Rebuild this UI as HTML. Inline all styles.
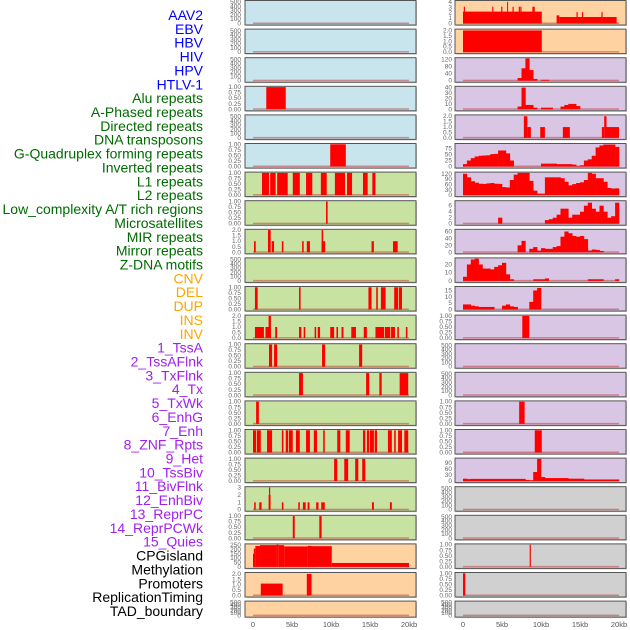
<!DOCTYPE html>
<html><head><meta charset="utf-8"><style>
html,body{margin:0;padding:0;background:#fff;width:630px;height:630px;overflow:hidden}
svg{display:block;font-family:"Liberation Sans",sans-serif}
</style></head><body>
<svg id="chart" width="630" height="630"></svg>
<script>
// ---------- data ----------
const trackLabels=["AAV2","EBV","HBV","HIV","HPV","HTLV-1","Alu repeats","A-Phased repeats","Directed repeats","DNA transposons","G-Quadruplex forming repeats","Inverted repeats","L1 repeats","L2 repeats","Low_complexity A/T rich regions","Microsatellites","MIR repeats","Mirror repeats","Z-DNA motifs","CNV","DEL","DUP","INS","INV","1_TssA","2_TssAFlnk","3_TxFlnk","4_Tx","5_TxWk","6_EnhG","7_Enh","8_ZNF_Rpts","9_Het","10_TssBiv","11_BivFlnk","12_EnhBiv","13_ReprPC","14_ReprPCWk","15_Quies","CPGisland","Methylation","Promoters","ReplicationTiming","TAD_boundary"];
const labelGroups=[6,13,5,15,5];
const groupColors=["#0000ff","#006b00","#ffa500","#a020f0","#000000"];
const xTickValues=[0,5,10,15,20];
const xTickLabels=["0","5kb","10kb","15kb","20kb"];
const binWidthKb=0.5;
const T500=[0,100,200,300,400,500], T1=[0,0.25,0.5,0.75,1], T2=[0,0.5,1,1.5,2], T3=[0,1,2,3];
const L3=[[1.7,4.2,1]];
const L5=[[9.9,11.9,1]];
const L6=[[1.15,2.05,1],[2.2,2.9,1],[3.1,4.45,1],[5.1,6.0,1],[6.8,7.6,1],[8.7,9.45,1],[10.5,11.8,1],[12.05,12.7,1],[14.1,14.7,1],[15.3,15.7,1]];
const L7=[[9.36,9.57,1]];
const L8=[[0.13,0.35,1],[1.92,2.27,2],[2.4,2.7,1],[3.7,3.9,1],[6.3,6.5,1],[6.9,7.3,1],[8.8,9.25,1],[8.8,9.0,2],[15.2,15.5,1],[17.95,18.55,1]];
const L10=[[0.25,0.6,1],[5.9,6.1,1],[14.8,15.2,1],[15.8,16.0,1],[16.4,17.0,1],[18.1,18.6,1],[18.7,19.1,1]];
const L11=[[0.25,1.4,1],[1.6,2.3,1],[2.0,2.3,2],[2.85,3.1,1],[5.9,6.2,1],[6.5,6.7,1],[7.9,8.1,1],[8.3,8.6,1],[9.9,10.4,1],[10.7,10.9,1],[11.35,11.6,1],[12.6,13.2,1],[14.2,14.6,1],[15.7,16.8,1],[16.9,17.6,1],[17.7,18.2,1],[18.5,18.7,1],[19.6,19.8,1]];
const L12=[[2.05,2.45,1],[2.7,3.1,1],[8.85,9.25,1],[13.6,14.0,1]];
const L13=[[5.9,6.4,1],[14.5,14.9,1],[16.2,16.5,1],[18.8,19.9,1]];
const L14=[[0.4,0.75,1]];
const L15=[[0,0.4,1],[0.5,1.0,1],[1.8,2.45,1],[3.7,3.9,1],[4.2,4.5,1],[4.6,5.1,1],[5.5,6.0,1],[6.8,7.3,1],[7.8,8.2,1],[9.0,9.2,1],[10.8,11.2,1],[11.9,12.4,1],[14.1,14.4,1],[14.6,14.9,1],[15.0,15.5,1],[15.6,15.9,1],[17.3,17.8,1],[18.1,18.3,1],[18.6,19.1,1],[19.4,19.9,1]];
const L16=[[10.4,10.8,1],[11.7,12.2,1],[13.1,13.5,1],[14.0,14.4,1]];
const L17=[[0.15,0.35,1],[0.8,1.1,1],[2.0,2.25,2],[2.05,2.2,3],[3.7,3.9,1],[5.8,6.0,1],[6.4,6.75,1],[7.0,7.25,1],[8.1,8.4,1],[8.75,9.2,1],[15.25,15.5,1],[17.55,17.8,1]];
const L18=[[5.1,5.35,1],[8.5,8.8,1]];
const L19=[[0,0.1,150],[0.1,0.3,210],[0.3,0.9,240],[0.9,3.0,250],[3.0,3.3,255],[3.3,4.0,250],[4.0,7.0,235],[7.0,7.5,242],[7.5,10.1,238],[10.1,20,45]];
const L20=[[1.0,3.8,1.1],[6.9,7.5,2]];
const R0=[[0,10.1,2.2],[0.1,0.25,3.1],[3.75,3.9,3.1],[4.9,5.05,3.1],[5.65,5.75,4],[6.35,6.5,3.1],[7.15,7.3,3.1],[7.35,7.5,3.1],[8.9,9.2,3.1],[12.0,12.35,1.5],[12.35,19.7,1.2],[14.55,14.7,2.1],[15.25,15.4,2.1],[17.75,17.9,2.1]];
const R1=[[0,10.1,2]];
const R2bins=[0,0,0,0,0,0,0,0,0,0,0,0,0,0,15,70,125,60,10,0,5,5,0,0,0,0,0,0,0,0,0,0,0,0,0,0,0,0,0,0];
const R3bins=[0,0,0,0,0,0,0,0,0,0,0,0,0,0,5,40,8,8,3,0,3,3,3,0,0,5,8,10,10,6,0,0,0,0,0,0,0,0,0,0];
const R4=[[7.8,8.25,2],[8.25,8.7,1],[9.9,10.5,1],[12.8,13.7,1],[17.8,18.1,1],[18.1,18.4,2],[18.4,20,1]];
const R5bins=[10,25,35,42,45,46,47,52,53,67,67,55,25,0,0,0,0,0,0,0,12,12,12,12,10,10,10,10,8,2,5,25,30,45,80,88,92,92,92,82];
const R6bins=[120,100,78,70,64,63,66,68,64,63,45,43,85,115,125,125,125,80,25,8,8,100,100,100,100,95,75,55,62,68,72,85,125,120,95,95,75,40,37,38];
const R7bins=[0,0,0,0,0,0,0,0,0,2,0,0,0,0,0,0,0,0,0,0,0,1.2,1.5,2,3,5,5,2,3,3,4,6,7,5,4,6,4,2,2.5,7];
const R8bins=[0,0,0,0,0,0,0,0,0,0,0,0,0,0,20,33,0,10,15,5,12,10,10,15,18,45,60,55,47,45,47,38,5,8,7,4,0,0,0,0];
const R9bins=[5,20,26,27,20,15,15,14,17,19,22,8,2,0,0,0,0,0,2,2,2,3,0,0,0,0,0,0,0,0,0,0,2,2,2,2,0,0,0,2];
const R10bins=[4,4,3,2.5,2,2,2,2,0,0,3,4,2.5,2,0,0,0,6,15,17,0,0,0,0,0,0,0,0,0,0,0,0,0,0,0,0,0,0,0,0];
const R11=[[7.6,8.5,1]];
const R14=[[7.2,7.9,1]];
const R15=[[9.2,10.1,1]];
const R16bins=[12,10,11,11,11,11,11,11,11,11,11,11,11,11,11,11,6,4,45,110,20,15,15,15,15,15,15,12,12,12,12,8,8,8,8,8,8,8,8,8];
const R19=[[8.55,8.7,1]];
const R20=[[0,0.3,1]];

const svg=document.getElementById('chart');
const NS='http://www.w3.org/2000/svg';
function el(tag,attrs,parent){const e=document.createElementNS(NS,tag);for(const k in attrs)e.setAttribute(k,attrs[k]);(parent||svg).appendChild(e);return e;}
const BG={blue:"#c8e4ec",green:"#c8e2a2",orange:"#ffd2a2",purple:"#d8c6e4",gray:"#d0d0d0"};
function rowTop(i){return 0.5+i*28.6;}
function rowH(i){return i===21?16:24.5;}
const cols=[{x0:245,w:171,k0:253,k1:409,tx:241},{x0:455,w:171,k0:463,k1:619,tx:452}];
const leftPanels=[
 {bg:"blue",t:T500,m:520},{bg:"blue",t:T500,m:520},{bg:"blue",t:T500,m:520},{bg:"blue",t:T1,m:1,s:L3},{bg:"blue",t:T500,m:520},{bg:"blue",t:T1,m:1,s:L5},
 {bg:"green",t:T1,m:1,s:L6},{bg:"green",t:T1,m:1,s:L7},{bg:"green",t:T2,m:2,s:L8},{bg:"green",t:T500,m:520},{bg:"green",t:T1,m:1,s:L10},{bg:"green",t:T2,m:2,s:L11},
 {bg:"green",t:T1,m:1,s:L12},{bg:"green",t:T1,m:1,s:L13},{bg:"green",t:T1,m:1,s:L14},{bg:"green",t:T1,m:1,s:L15},{bg:"green",t:T1,m:1,s:L16},{bg:"green",t:T3,m:3,s:L17},{bg:"green",t:T1,m:1,s:L18},
 {bg:"orange",t:[0,50,100,150,200,250],m:255,s:L19},{bg:"orange",t:T2,m:2.05,s:L20},{bg:"orange",t:T500,m:520}];
const rightPanels=[
 {bg:"orange",t:[0,1,2,3,4],m:4.1,s:R0},{bg:"orange",t:T2,m:2.05,s:R1},{bg:"purple",t:[0,40,80,120],m:125,b:R2bins},{bg:"purple",t:[0,10,20,30,40],m:41,b:R3bins},
 {bg:"purple",t:T2,m:2.05,s:R4},{bg:"purple",t:[0,25,50,75],m:93,b:R5bins},{bg:"purple",t:[0,30,60,90,120],m:125,b:R6bins},{bg:"purple",t:[0,2,4,6],m:7.4,b:R7bins},
 {bg:"purple",t:[0,20,40,60],m:64,b:R8bins},{bg:"purple",t:[0,10,20],m:27,b:R9bins},{bg:"purple",t:[0,5,10,15],m:17.5,b:R10bins},{bg:"purple",t:T1,m:1,s:R11},
 {bg:"purple",t:T500,m:520},{bg:"purple",t:T500,m:520},{bg:"purple",t:T1,m:1,s:R14},{bg:"purple",t:T1,m:1,s:R15},{bg:"purple",t:[0,30,60,90],m:110,b:R16bins},
 {bg:"gray",t:T500,m:520},{bg:"gray",t:T500,m:520},{bg:"gray",t:T1,m:1,s:R19},{bg:"gray",t:T1,m:1,s:R20},{bg:"gray",t:T500,m:520}];

function tickText(v,t){
  if(t===T1) return v.toFixed(2);
  if(t===T2) return v.toFixed(1);
  return String(v);
}

function drawPanel(p,ci,ri){
  const c=cols[ci], top=rowTop(ri), h=rowH(ri);
  const g=el('g',{});
  
  
  el('rect',{x:c.x0+1,y:top+1,width:c.w,height:h,fill:'#999','fill-opacity':0.5},g);
  el('rect',{x:c.x0,y:top,width:c.w,height:h,fill:BG[p.bg],stroke:'#555','stroke-width':1},g);
  const yb=top+h-1.5, yt=top+0.8;
  const yS=v=>yb-(yb-yt)*(v/p.m);
  const xS=kb=>c.k0+(c.k1-c.k0)*kb/20;
  const bl=el('rect',{x:xS(0),y:yb-1,width:xS(20)-xS(0),height:1.5,fill:'#c02020','fill-opacity':0.45},g);
  
  
  if(p.s){for(const s of p.s){
    const r=el('rect',{x:xS(s[0]),y:yS(s[2]),width:Math.max(1,xS(s[1])-xS(s[0])),height:yb-yS(s[2]),fill:'#ff0000'},g);
    
    
  }}
  if(p.b){p.b.forEach((v,i)=>{ if(v<=0) return;
    const r=el('rect',{x:xS(i*binWidthKb),y:yS(v),width:xS((i+1)*binWidthKb)-xS(i*binWidthKb)+0.3,height:yb-yS(v),fill:'#ff0000'},g);
    
    
  });}
  for(const t of p.t){
    const tt=el('text',{x:c.tx,y:yS(t)+2,'font-size':6.5,fill:'#666','text-anchor':'end'},g);
    tt.textContent=tickText(t,p.t);
    
    
  }
}
leftPanels.forEach((p,i)=>drawPanel(p,0,i));
rightPanels.forEach((p,i)=>drawPanel(p,1,i));

cols.forEach((c,ci)=>{
  xTickValues.forEach((v,i)=>{
    const t=el('text',{x:c.k0+(c.k1-c.k0)*v/20,y:627,'font-size':7.5,fill:'#555','text-anchor':'middle'});
    t.textContent=xTickLabels[i];
    
    
  });
});

let gi=0,cnt=0;
trackLabels.forEach((lab,i)=>{
  while(cnt>=labelGroups[gi]){cnt=0;gi++;}
  cnt++;
  const t=el('text',{x:203,y:15+i*13.86+5,'font-size':14,fill:groupColors[gi],'text-anchor':'end'});
  t.textContent=lab;
  
  
});
</script>
</body></html>
